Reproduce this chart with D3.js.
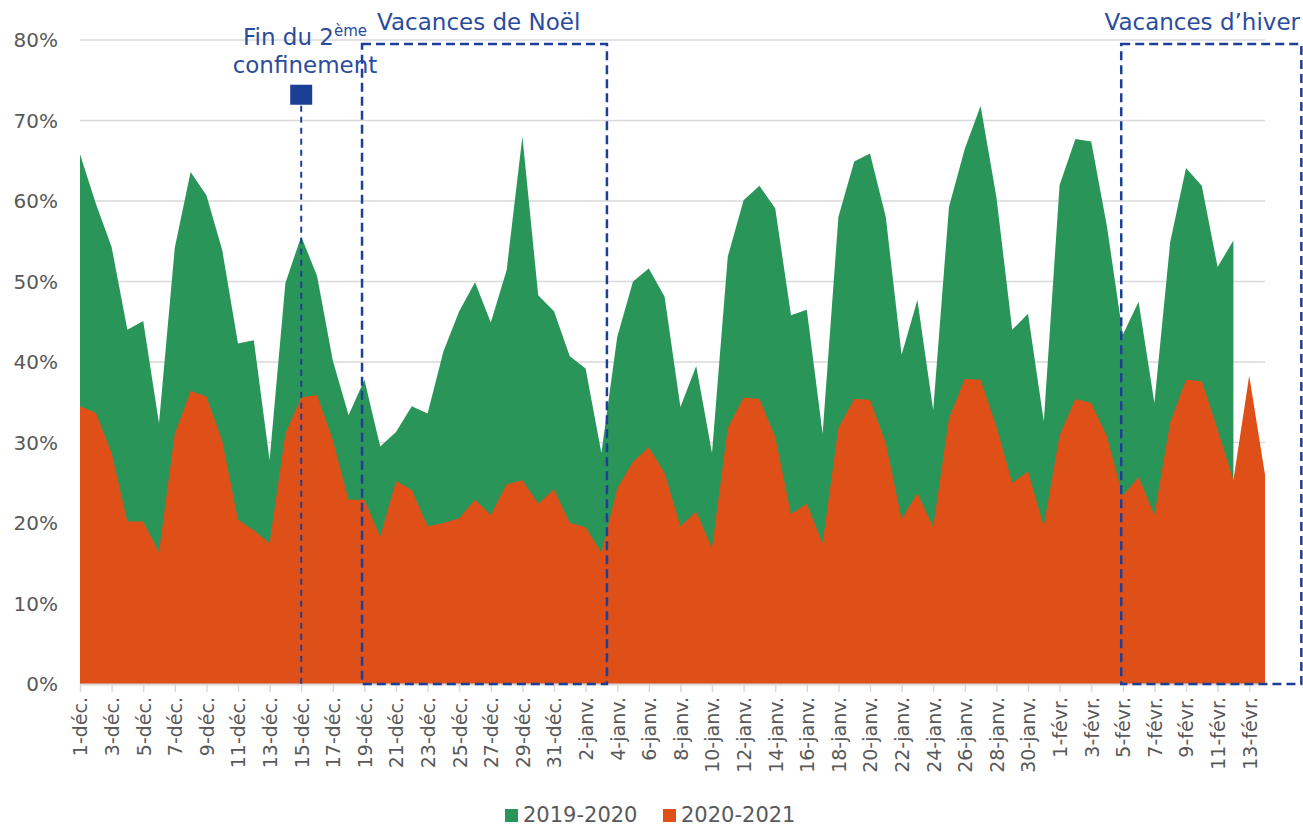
<!DOCTYPE html>
<html><head><meta charset="utf-8">
<script src="https://cdn.jsdelivr.net/npm/d3@7"></script>
<style>
html,body{margin:0;padding:0;background:#fff;}
svg{display:block;font-family:"DejaVu Sans",sans-serif;}
</style></head>
<body>
<svg id="chart" width="1303" height="827"></svg>
<script>
const categories = ["1-déc.","2-déc.","3-déc.","4-déc.","5-déc.","6-déc.","7-déc.","8-déc.","9-déc.","10-déc.",
"11-déc.","12-déc.","13-déc.","14-déc.","15-déc.","16-déc.","17-déc.","18-déc.","19-déc.","20-déc.",
"21-déc.","22-déc.","23-déc.","24-déc.","25-déc.","26-déc.","27-déc.","28-déc.","29-déc.","30-déc.","31-déc.",
"1-janv.","2-janv.","3-janv.","4-janv.","5-janv.","6-janv.","7-janv.","8-janv.","9-janv.","10-janv.",
"11-janv.","12-janv.","13-janv.","14-janv.","15-janv.","16-janv.","17-janv.","18-janv.","19-janv.","20-janv.",
"21-janv.","22-janv.","23-janv.","24-janv.","25-janv.","26-janv.","27-janv.","28-janv.","29-janv.","30-janv.","31-janv.",
"1-févr.","2-févr.","3-févr.","4-févr.","5-févr.","6-févr.","7-févr.","8-févr.","9-févr.","10-févr.",
"11-févr.","12-févr.","13-févr.","14-févr."];

// 2019-2020 (ends 12-févr.)
const s2019 = [65.8,59.7,54.3,44.0,45.1,32.4,54.2,63.6,60.7,53.9,
42.3,42.7,27.8,49.8,55.6,50.7,40.2,33.4,37.8,29.5,
31.3,34.5,33.6,41.3,46.3,49.9,44.9,51.4,68.0,48.3,46.3,
40.7,39.2,28.7,43.1,50.0,51.6,48.1,34.4,39.5,28.7,
53.1,60.1,61.9,59.1,45.8,46.5,31.1,58.0,64.9,65.9,
58.0,40.9,47.7,34.0,59.3,66.5,71.8,60.5,44.0,46.0,32.6,
62.0,67.7,67.4,56.8,43.4,47.5,34.9,54.9,64.1,61.9,51.8,55.1];

// 2020-2021
const s2020 = [34.5,33.7,28.7,20.2,20.2,16.4,31.1,36.4,35.7,30.2,
20.4,19.1,17.5,31.1,35.6,35.9,30.3,22.9,22.9,18.3,
25.2,24.1,19.6,20.0,20.6,22.9,21.0,24.8,25.3,22.4,24.2,
20.0,19.5,16.3,24.3,27.6,29.4,26.2,19.6,21.4,16.9,
31.8,35.6,35.4,30.7,21.1,22.4,17.5,31.8,35.4,35.3,
29.9,20.5,23.7,19.5,33.0,37.9,37.8,32.0,25.0,26.4,19.6,
30.9,35.4,34.9,30.7,23.4,25.7,21.0,32.5,37.8,37.6,31.6,25.3,38.3,26.0];

const yTicks = [0,10,20,30,40,50,60,70,80];
const seriesNames = ["2019-2020","2020-2021"];
const seriesColors = ["#2A9559","#DE5018"];

// annotations (data units: category index, percent)
const confinement = {cat:"15-déc.", value:73.2, label1:"Fin du 2", sup:"ème", label2:"confinement"};
const holidays = [
  {label:"Vacances de Noël", from:17.85, to:33.35, top:79.5},
  {label:"Vacances d’hiver", from:65.9, to:77.3, top:79.5}
];

(function(){
const svg = d3.select("#chart");
const mLeft = 80, mRight = 1265, mTop = 40, mBottom = 684;
const x = d3.scalePoint().domain(categories).range([mLeft, mRight]);
const xi = d3.scaleLinear().domain([0, categories.length-1]).range([mLeft, mRight]);
const y = d3.scaleLinear().domain([0,80]).range([mBottom, mTop]);

// gridlines
svg.append("g").selectAll("line").data(yTicks.filter(d=>d>0)).join("line")
  .attr("x1", mLeft).attr("x2", mRight)
  .attr("y1", d=>y(d)).attr("y2", d=>y(d))
  .attr("stroke", "#d9d9d9").attr("stroke-width", 1.5);

// y labels
svg.append("g").selectAll("text").data(yTicks).join("text")
  .attr("x", 58).attr("y", d=>y(d)).attr("dy","0.36em")
  .attr("text-anchor","end").attr("font-size",20).attr("fill","#595959")
  .text(d=>d+"%");

// areas
const area = d3.area().x((d,i)=>x(categories[i])).y0(y(0)).y1(d=>y(d));
svg.append("path").datum(s2019).attr("d", area).attr("fill", seriesColors[0]);
svg.append("path").datum(s2020).attr("d", area).attr("fill", seriesColors[1]);

// x axis
const xAxis = d3.axisBottom(x)
  .tickValues(categories.filter((d,i)=>i%2===0))
  .tickSize(8).tickSizeOuter(0);
const gx = svg.append("g").attr("transform", `translate(0,${mBottom})`).call(xAxis);
gx.select(".domain").attr("stroke","#d9d9d9").attr("stroke-width",2);
gx.selectAll(".tick line").attr("stroke","#d9d9d9").attr("stroke-width",1.5);
gx.selectAll(".tick text")
  .attr("font-size",19).attr("fill","#595959").attr("font-family","DejaVu Sans")
  .attr("transform","rotate(-90)")
  .attr("x",-13).attr("y",0).attr("dy","0.36em")
  .attr("text-anchor","end");

// holiday boxes
const blue = "#1F3F96";
holidays.forEach(h=>{
  svg.append("rect")
    .attr("x", xi(h.from)).attr("y", y(h.top))
    .attr("width", xi(h.to)-xi(h.from)).attr("height", y(0)-y(h.top))
    .attr("fill","none").attr("stroke", blue).attr("stroke-width",2.5)
    .attr("stroke-dasharray","9,5");
});
svg.append("text").attr("x", xi(holidays[0].from)+15).attr("y",30)
  .attr("font-size",23).attr("fill","#2B4C9E").text(holidays[0].label);
svg.append("text").attr("x", 1300).attr("y",30).attr("text-anchor","end")
  .attr("font-size",23).attr("fill","#2B4C9E").text(holidays[1].label);

// confinement marker
const cx = x(confinement.cat);
svg.append("line").attr("x1",cx).attr("x2",cx)
  .attr("y1", y(confinement.value)).attr("y2", y(0))
  .attr("stroke", blue).attr("stroke-width",2).attr("stroke-dasharray","6,5");
svg.append("rect").attr("x", cx-11).attr("y", y(confinement.value)-10)
  .attr("width",22).attr("height",20).attr("fill","#1B3F94");
const t1 = svg.append("text").attr("x",305).attr("y",45).attr("text-anchor","middle")
  .attr("font-size",23).attr("fill","#2B4C9E");
t1.append("tspan").text(confinement.label1);
t1.append("tspan").attr("font-size",15).attr("dy",-9).text(confinement.sup);
svg.append("text").attr("x",305).attr("y",73).attr("text-anchor","middle")
  .attr("font-size",23).attr("fill","#2B4C9E").text(confinement.label2);

// legend
const legend = svg.append("g");
const lx = [505, 663];
seriesNames.forEach((n,i)=>{
  legend.append("rect").attr("x", lx[i]).attr("y", 809).attr("width",13).attr("height",13).attr("fill", seriesColors[i]);
  legend.append("text").attr("x", lx[i]+18).attr("y", 822).attr("font-size",21).attr("fill","#595959").text(n);
});
})();
</script>
</body></html>
